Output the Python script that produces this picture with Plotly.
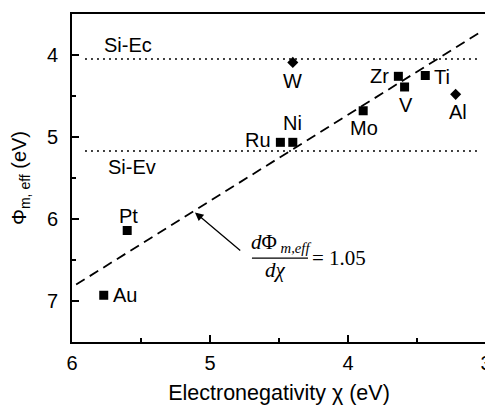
import plotly.graph_objects as go

# ---- data ----
sq_names = ["Zr", "V", "Ti", "Mo", "Ni", "Ru", "Pt", "Au"]
sq_chi = [3.635, 3.59, 3.44, 3.89, 4.40, 4.49, 5.60, 5.77]
sq_phi = [4.26, 4.39, 4.25, 4.68, 5.065, 5.065, 6.14, 6.93]

dm_names = ["W", "Al"]
dm_chi = [4.40, 3.22]
dm_phi = [4.09, 4.48]

fit_chi = [5.97, 3.04]
fit_phi = [6.80, 3.72]

band_chi = [5.906, 3.043]
si_ec = 4.05
si_ev = 5.17

x_ticks = [6, 5, 4, 3]
y_ticks = [4, 5, 6, 7]

# label pixel offsets (dx, dy) relative to the marker
label_offsets = {
    "Zr": (-19, 0), "V": (1, -18), "Ti": (17, -1), "Mo": (1, -17),
    "Ni": (0, 19), "Ru": (-22, 2), "Pt": (1, 14), "Au": (21, 0),
    "W": (0, -19), "Al": (2, -18),
}

FONT = "Liberation Sans, Arial, sans-serif"
SERIF = "Liberation Serif, Times New Roman, serif"

fig = go.Figure()

fig.add_trace(go.Scatter(x=band_chi, y=[si_ec, si_ec], mode="lines",
                         line=dict(color="black", width=1.5, dash="2px,4px"),
                         showlegend=False, hoverinfo="skip"))
fig.add_trace(go.Scatter(x=band_chi, y=[si_ev, si_ev], mode="lines",
                         line=dict(color="black", width=1.5, dash="2px,4px"),
                         showlegend=False, hoverinfo="skip"))
fig.add_trace(go.Scatter(x=fit_chi, y=fit_phi, mode="lines",
                         line=dict(color="black", width=1.8, dash="10px,6px"),
                         showlegend=False, hoverinfo="skip"))
fig.add_trace(go.Scatter(x=sq_chi, y=sq_phi, mode="markers",
                         marker=dict(symbol="square", size=9, color="black"),
                         showlegend=False))
fig.add_trace(go.Scatter(x=dm_chi, y=dm_phi, mode="markers",
                         marker=dict(symbol="diamond", size=8.5, color="black"),
                         showlegend=False))

annotations = []
for names, xs, ys in [(sq_names, sq_chi, sq_phi), (dm_names, dm_chi, dm_phi)]:
    for n, x, y in zip(names, xs, ys):
        dx, dy = label_offsets[n]
        annotations.append(dict(x=x, y=y, xref="x", yref="y", text=n,
                                showarrow=False, xshift=dx, yshift=dy,
                                font=dict(family=FONT, size=20, color="black")))

annotations.append(dict(x=5.594, y=3.878, xref="x", yref="y", text="Si-Ec",
                        showarrow=False, font=dict(family=FONT, size=20, color="black")))
annotations.append(dict(x=5.565, y=5.366, xref="x", yref="y", text="Si-Ev",
                        showarrow=False, font=dict(family=FONT, size=20, color="black")))

# arrow
annotations.append(dict(x=5.109, y=5.92, ax=4.77, ay=6.40, xref="x", yref="y",
                        axref="x", ayref="y", text="", showarrow=True,
                        arrowhead=2, arrowsize=1.3, arrowwidth=1.3, arrowcolor="black"))

# fraction
annotations.append(dict(x=4.486, y=6.293, xref="x", yref="y",
                        text="<i>d</i>Φ<sub><i> m,eff</i></sub>", showarrow=False,
                        font=dict(family=SERIF, size=21, color="black")))
annotations.append(dict(x=4.522, y=6.622, xref="x", yref="y",
                        text="<i>dχ</i>", showarrow=False,
                        font=dict(family=SERIF, size=21, color="black")))
annotations.append(dict(x=4.275, y=6.476, xref="x", yref="y", xanchor="left",
                        text="= 1.05", showarrow=False,
                        font=dict(family=SERIF, size=21, color="black")))

fig.add_shape(type="line", x0=4.696, x1=4.290, y0=6.476, y1=6.476,
              xref="x", yref="y", line=dict(color="black", width=1.2))

# the page body adds an 8px offset at left/top; size and margins compensate
fig.update_layout(
    width=485, height=397,
    margin=dict(l=64, r=7, t=6, b=63),
    paper_bgcolor="white", plot_bgcolor="white",
    annotations=annotations,
    font=dict(family=FONT, size=20, color="black"),
    xaxis=dict(range=[6, 3], tickvals=x_ticks, ticktext=[str(v) for v in x_ticks],
               ticks="inside", ticklen=7, tickwidth=1.5, tickcolor="black",
               minor=dict(tickvals=[5.5, 4.5, 3.5], ticks="inside", ticklen=4,
                          tickwidth=1.5, tickcolor="black"),
               showline=True, linecolor="black", linewidth=2, mirror=True,
               showgrid=False, zeroline=False, automargin=False,
               ticklabelstandoff=2,
               tickfont=dict(family=FONT, size=20),
               title=dict(text="Electronegativity χ (eV)", standoff=27,
                          font=dict(family=FONT, size=21.5))),
    yaxis=dict(range=[7.5, 3.5], tickvals=y_ticks, ticktext=[str(v) for v in y_ticks],
               ticks="inside", ticklen=7, tickwidth=1.5, tickcolor="black",
               minor=dict(tickvals=[4.5, 5.5, 6.5], ticks="inside", ticklen=4,
                          tickwidth=1.5, tickcolor="black"),
               showline=True, linecolor="black", linewidth=2, mirror=True,
               showgrid=False, zeroline=False, automargin=False,
               ticklabelstandoff=8,
               tickfont=dict(family=FONT, size=20),
               title=dict(text="Φ<sub>m, eff</sub> (eV)", standoff=18,
                          font=dict(family=FONT, size=20))),
)

fig.write_html("out.html")
